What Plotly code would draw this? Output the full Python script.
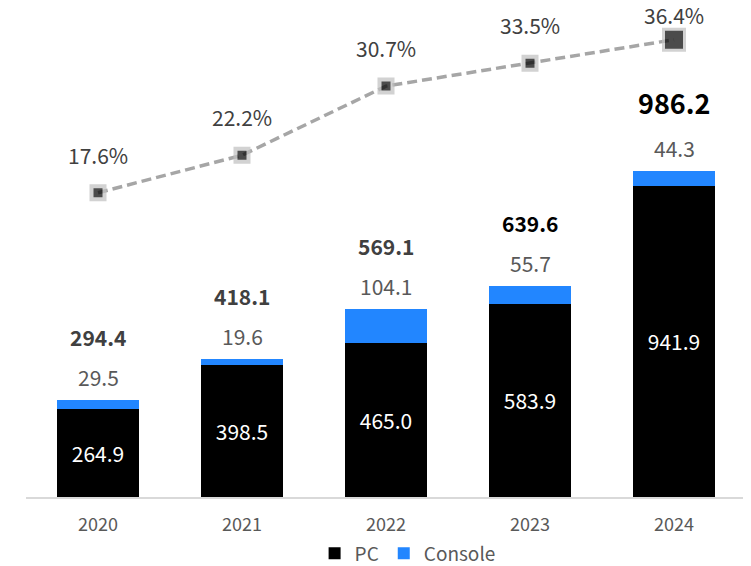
import plotly.graph_objects as go

years = ["2020", "2021", "2022", "2023", "2024"]
pc = [264.9, 398.5, 465.0, 583.9, 941.9]
console = [29.5, 19.6, 104.1, 55.7, 44.3]
totals = [294.4, 418.1, 569.1, 639.6, 986.2]
share = [17.6, 22.2, 30.7, 33.5, 36.4]
share_labels = ["17.6%", "22.2%", "30.7%", "33.5%", "36.4%"]

FONT = "Noto Sans CJK KR"
xi = list(range(len(years)))
last = len(years) - 1

fig = go.Figure()
fig.add_trace(go.Bar(
    x=xi, y=pc, name="PC", marker=dict(color="#000000", line=dict(width=0)),
    text=[f"{v:.1f}" for v in pc], textposition="inside", insidetextanchor="middle",
    textfont=dict(color="white", size=21, family=FONT), width=0.57,
))
fig.add_trace(go.Bar(
    x=xi, y=console, name="Console", marker=dict(color="#2286ff", line=dict(width=0)),
    width=0.57,
))
fig.add_trace(go.Scatter(
    x=xi, y=share, yaxis="y2", mode="lines+markers", showlegend=False,
    line=dict(color="#a6a6a6", width=3.5, dash="10px,5px"),
    marker=dict(symbol="square", color="#000000",
                size=[21 if i == last else 13 for i in xi],
                line=dict(color="#c0c0c0", width=[3 if i == last else 4 for i in xi])),
))

annotations = []
for i in xi:
    big = i == last
    annotations.append(dict(x=i, y=pc[i] + console[i], xref="x", yref="y",
                            text=f"{console[i]:.1f}", showarrow=False,
                            yshift=23, font=dict(size=21, color="#595959", family=FONT)))
    annotations.append(dict(x=i, y=pc[i] + console[i], xref="x", yref="y",
                            text=f"<b>{totals[i]:.1f}</b>", showarrow=False,
                            yshift=68 if big else 63,
                            font=dict(size=27 if big else 21,
                                      color="#000000" if i >= 3 else "#404040",
                                      family=FONT)))
    annotations.append(dict(x=i, y=share[i], xref="x", yref="y2",
                            text=share_labels[i], showarrow=False,
                            yshift=25 if big else 38,
                            font=dict(size=21, color="#404040", family=FONT)))

fig.update_layout(
    width=743, height=558,
    margin=dict(l=18, r=5, t=2, b=69, autoexpand=False),
    paper_bgcolor="white", plot_bgcolor="white",
    barmode="stack",
    font=dict(family=FONT, color="#595959"),
    xaxis=dict(range=[-0.5, 4.5], tickvals=xi, ticktext=years,
               showgrid=False, zeroline=False, showline=True, linecolor="#d9d9d9", linewidth=2,
               ticks="", ticklabelstandoff=10,
               tickfont=dict(size=18, color="#595959"), fixedrange=True,
               automargin=False),
    yaxis=dict(range=[0, 1473], visible=False, fixedrange=True),
    yaxis2=dict(range=[-19.78, 40.05], overlaying="y", visible=False, fixedrange=True),
    legend=dict(orientation="h", x=0.53, xanchor="center", y=-0.116, yanchor="middle",
                font=dict(size=19, color="#595959", family=FONT),
                traceorder="normal"),
    annotations=annotations,
    showlegend=True,
)

fig.write_html("out.html")
